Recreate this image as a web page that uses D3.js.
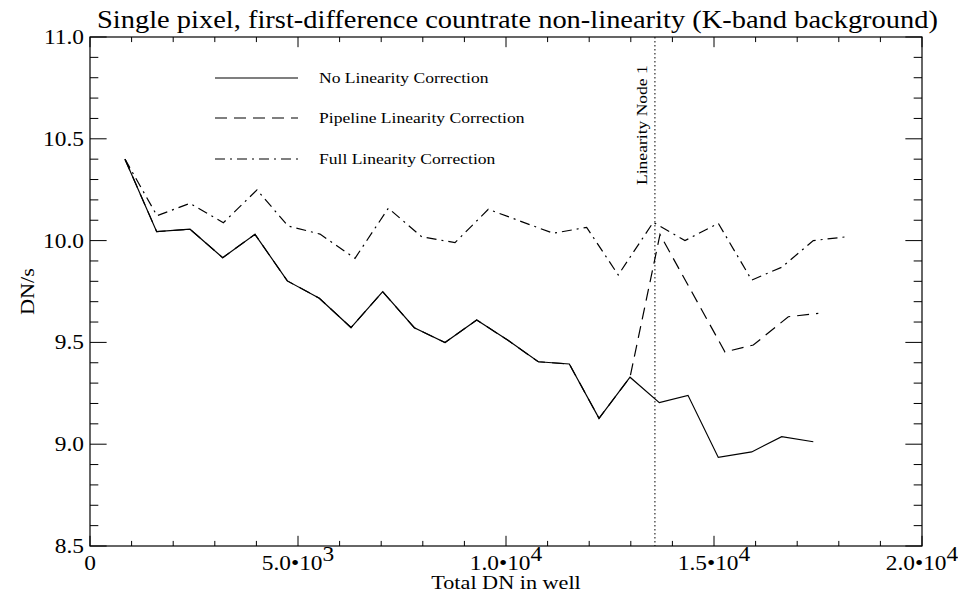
<!DOCTYPE html>
<html>
<head>
<meta charset="utf-8">
<script src="https://cdn.jsdelivr.net/npm/d3@7"></script>
<style>
  body { margin: 0; background: #fff; }
  svg { display: block; }
  text { font-family: "Liberation Serif", "Times New Roman", Times, serif; fill: #000; }
</style>
</head>
<body>
<svg id="chart" width="958" height="594"></svg>
<script>
// ---- data ----
// Each series has its own "Total DN in well" values (corrections change the counts)
const dnNoCorrection = [841, 1603, 2404, 3190, 3966, 4743, 5512, 6274, 7036, 7796, 8534, 9296, 10048, 10776, 11522, 12236, 12981, 13685, 14375, 15103, 15906, 16627, 17387];
const noCorrection   = [10.40, 10.044, 10.056, 9.916, 10.031, 9.802, 9.717, 9.573, 9.749, 9.572, 9.499, 9.610, 9.51, 9.405, 9.394, 9.127, 9.329, 9.204, 9.240, 8.935, 8.962, 9.037, 9.012];

const dnPipeline = [841, 1603, 2404, 3190, 3966, 4743, 5512, 6274, 7036, 7796, 8534, 9296, 10048, 10776, 11522, 12236, 12981, 13702, 14471, 15264, 15945, 16786, 17507];
const pipelineCorrection = [10.40, 10.044, 10.056, 9.916, 10.031, 9.802, 9.717, 9.573, 9.749, 9.572, 9.499, 9.610, 9.51, 9.405, 9.394, 9.127, 9.329, 10.03, 9.746, 9.453, 9.487, 9.626, 9.643];

const dnFull = [841, 1611, 2404, 3206, 4015, 4759, 5529, 6370, 7171, 7974, 8774, 9575, 10337, 11136, 11939, 12698, 13540, 14302, 15103, 15906, 16627, 17387, 18190];
const fullCorrection = [10.40, 10.122, 10.183, 10.088, 10.249, 10.072, 10.032, 9.913, 10.159, 10.019, 9.990, 10.154, 10.096, 10.036, 10.065, 9.831, 10.090, 10.000, 10.085, 9.806, 9.869, 10.000, 10.019];

const seriesNames = ["No Linearity Correction", "Pipeline Linearity Correction", "Full Linearity Correction"];
const seriesDash = ["none", "12,7", "10,5,2,5"];
const xTickValues = [0, 5000, 10000, 15000, 20000];
const xTickMantissa = ["0", "5.0•10", "1.0•10", "1.5•10", "2.0•10"];
const xTickExponent = ["", "3", "4", "4", "4"];
const yTickValues = [8.5, 9.0, 9.5, 10.0, 10.5, 11.0];
const yTickLabels = ["8.5", "9.0", "9.5", "10.0", "10.5", "11.0"];
const nodeDN = 13580;
const nodeLabel = "Linearity Node 1";
const titleText = "Single pixel, first-difference countrate non-linearity (K-band background)";
const xTitle = "Total DN in well";
const yTitle = "DN/s";

// ---- layout ----
const svg = d3.select("#chart");
const L = 90, R = 922, T = 37, B = 546;
const x = d3.scaleLinear().domain([0, 20000]).range([L, R]);
const y = d3.scaleLinear().domain([8.5, 11.0]).range([B, T]);
const pw = R - L, ph = B - T;
const yMajor = 0.02 * pw, xMajor = 0.02 * ph;
const WIDEN = 1.17; // reference glyphs are wider than Liberation Serif

function label(parent, px, py, size, anchor, str, rot) {
  const tr = `translate(${px},${py})` + (rot ? ` rotate(${rot})` : "") + ` scale(${WIDEN},1)`;
  return parent.append("text").attr("transform", tr).attr("font-size", size)
    .attr("text-anchor", anchor).text(str);
}

const g = svg.append("g");

// frame
g.append("rect").attr("x", L).attr("y", T).attr("width", pw).attr("height", ph)
  .attr("fill", "none").attr("stroke", "#000").attr("stroke-width", 1.2);

// x ticks (bottom and top)
d3.range(0, 20001, 1000).forEach(v => {
  const len = v % 5000 === 0 ? xMajor : xMajor / 2;
  g.append("line").attr("x1", x(v)).attr("x2", x(v)).attr("y1", B).attr("y2", B - len).attr("stroke", "#000");
  g.append("line").attr("x1", x(v)).attr("x2", x(v)).attr("y1", T).attr("y2", T + len).attr("stroke", "#000");
});
// y ticks (left and right)
d3.range(0, 26).forEach(i => {
  const v = 8.5 + i * 0.1;
  const len = i % 5 === 0 ? yMajor : yMajor / 2;
  g.append("line").attr("x1", L).attr("x2", L + len).attr("y1", y(v)).attr("y2", y(v)).attr("stroke", "#000");
  g.append("line").attr("x1", R).attr("x2", R - len).attr("y1", y(v)).attr("y2", y(v)).attr("stroke", "#000");
});

// x tick labels
xTickValues.forEach((v, i) => {
  const t = label(g, x(v), B + 24, 20, "middle", null);
  t.append("tspan").text(xTickMantissa[i]);
  if (xTickExponent[i]) t.append("tspan").attr("dy", -9).text(xTickExponent[i]);
});
// y tick labels
yTickValues.forEach((v, i) => {
  label(g, L - 6, y(v) + 7, 20, "end", yTickLabels[i]);
});

// titles
svg.append("text").attr("x", 97).attr("y", 28).attr("font-size", 26)
  .attr("textLength", 841).attr("lengthAdjust", "spacingAndGlyphs").text(titleText);
label(svg, (L + R) / 2, 589, 19, "middle", xTitle);
label(svg, 34, (T + B) / 2, 19, "middle", yTitle, -90);

// node line
g.append("line").attr("x1", x(nodeDN)).attr("x2", x(nodeDN)).attr("y1", T).attr("y2", B)
  .attr("stroke", "#000").attr("stroke-dasharray", "1.5,2.5");
label(g, x(nodeDN) - 8, T + 148, 15, "start", nodeLabel, -90);

// series
const series = [
  { dn: dnNoCorrection, v: noCorrection },
  { dn: dnPipeline, v: pipelineCorrection },
  { dn: dnFull, v: fullCorrection }
];
const line = d3.line().x(d => x(d[0])).y(d => y(d[1]));
[1, 2, 0].forEach(k => {
  const pts = series[k].dn.map((d, i) => [d, series[k].v[i]]);
  g.append("path").attr("d", line(pts)).attr("fill", "none").attr("stroke", "#000")
    .attr("stroke-width", 1.2).attr("stroke-dasharray", seriesDash[k]);
});

// legend
const legY = [78, 118, 159];
seriesNames.forEach((n, i) => {
  g.append("line").attr("x1", 215).attr("x2", 298).attr("y1", legY[i]).attr("y2", legY[i])
    .attr("stroke", "#000").attr("stroke-width", 1.2).attr("stroke-dasharray", seriesDash[i]);
  label(g, 319, legY[i] + 5, 15, "start", n);
});
</script>
</body>
</html>
